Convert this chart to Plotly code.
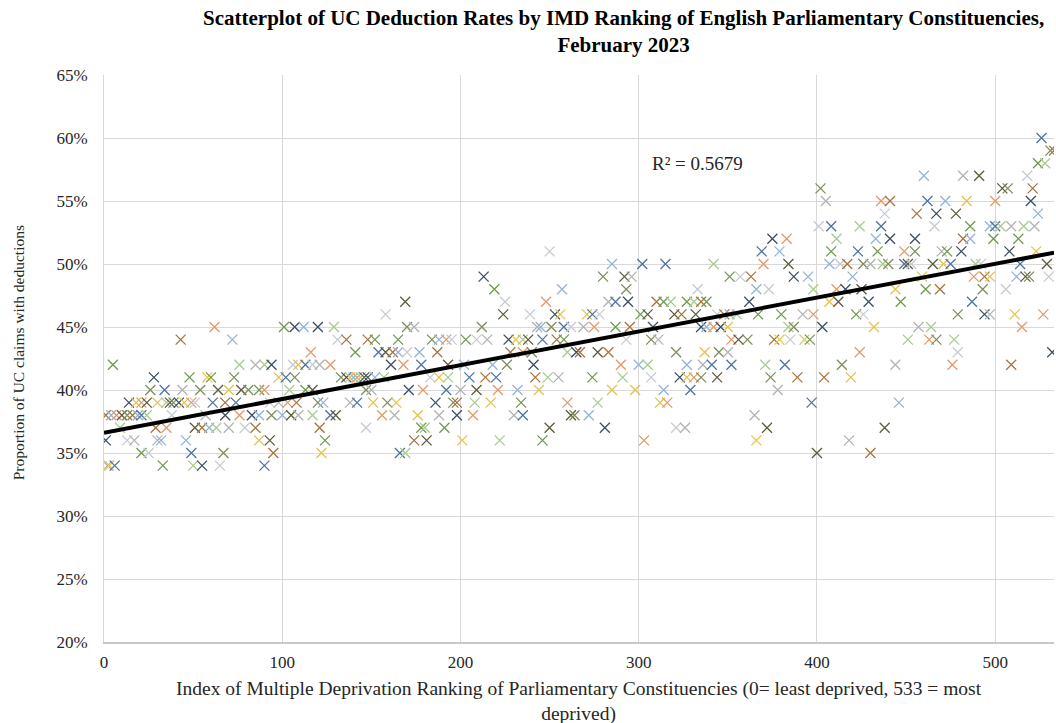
import plotly.graph_objects as go

# IMD ranks of constituencies, grouped by their UC deduction rate (%)
ranks_34pct = [2, 3, 6, 33, 50, 55, 65, 90]
ranks_35pct = [21, 25, 49, 67, 95, 122, 166, 169, 400, 430]
ranks_36pct = [1, 13, 17, 30, 32, 46, 87, 93, 124, 174, 181, 201, 222, 246, 303, 366, 418]
ranks_37pct = [9, 29, 35, 51, 55, 59, 63, 70, 79, 85, 121, 147, 178, 180, 191, 250, 281, 321, 326, 372, 438]
ranks_38pct = [1, 4, 7, 10, 13, 16, 19, 21, 24, 38, 57, 68, 76, 83, 87, 94, 100, 105, 109, 117, 127, 130,
               156, 163, 176, 188, 198, 207, 230, 235, 262, 264, 272, 365]
ranks_39pct = [14, 18, 21, 24, 30, 35, 37, 39, 42, 45, 49, 51, 61, 68, 74, 93, 98, 103, 108, 120, 123, 138,
               142, 151, 159, 164, 186, 196, 198, 208, 217, 234, 260, 277, 312, 316, 397, 446]
ranks_40pct = [26, 34, 44, 54, 64, 70, 77, 81, 87, 90, 104, 113, 117, 147, 150, 171, 179, 192, 200, 209,
               221, 232, 244, 285, 298, 314, 329, 378]
ranks_41pct = [28, 48, 58, 60, 73, 98, 102, 107, 133, 136, 138, 140, 142, 144, 146, 148, 152, 157, 183,
               188, 193, 205, 214, 220, 242, 249, 255, 274, 291, 307, 323, 327, 331, 335, 344, 374, 389,
               404, 419]
ranks_42pct = [5, 76, 85, 90, 94, 106, 109, 113, 117, 121, 127, 161, 168, 178, 193, 202, 218, 226, 241,
               290, 300, 305, 327, 336, 341, 352, 371, 382, 414, 444, 476, 509]
ranks_43pct = [116, 141, 154, 158, 162, 165, 170, 177, 187, 228, 235, 240, 260, 265, 267, 277, 283, 321,
               337, 345, 350, 424, 479, 532]
ranks_44pct = [43, 72, 131, 136, 148, 152, 165, 184, 188, 192, 195, 203, 209, 215, 227, 231, 235, 238,
               246, 254, 258, 293, 307, 311, 352, 356, 361, 376, 379, 385, 393, 396, 451, 463, 467, 477]
ranks_45pct = [62, 101, 107, 112, 120, 129, 170, 174, 212, 243, 245, 251, 258, 262, 269, 275, 287, 295,
               308, 335, 338, 342, 346, 350, 384, 387, 403, 432, 457, 464, 515]
ranks_46pct = [158, 224, 239, 253, 256, 271, 274, 278, 301, 305, 320, 324, 332, 344, 348, 351, 355, 367,
               380, 392, 398, 422, 426, 479, 494, 497, 511, 527]
ranks_47pct = [169, 225, 248, 283, 287, 294, 310, 314, 318, 327, 331, 335, 338, 362, 407, 412, 429, 447, 487]
ranks_48pct = [219, 257, 293, 333, 366, 373, 398, 411, 416, 425, 444, 461, 469, 493, 506]
ranks_49pct = [213, 280, 292, 296, 351, 357, 363, 387, 395, 420, 459, 488, 494, 497, 512, 517, 519, 530]
ranks_50pct = [285, 302, 315, 342, 370, 384, 407, 413, 417, 426, 430, 437, 440, 449, 451, 453, 465, 471,
               475, 489, 492, 514, 529]
ranks_51pct = [250, 369, 379, 408, 423, 434, 449, 455, 470, 473, 481, 508, 523]
ranks_52pct = [375, 383, 411, 433, 441, 455, 482, 486, 499, 513]
ranks_53pct = [401, 408, 424, 436, 466, 486, 497, 500, 503, 509, 516, 522]
ranks_54pct = [438, 456, 467, 478, 524]
ranks_55pct = [405, 436, 441, 462, 472, 484, 500, 520]
ranks_56pct = [402, 504, 507, 521]
ranks_57pct = [460, 482, 491, 518]
ranks_58pct = [524, 528]
ranks_59pct = [531, 533]
ranks_60pct = [526]

rate_rows = {
    34: ranks_34pct, 35: ranks_35pct, 36: ranks_36pct, 37: ranks_37pct, 38: ranks_38pct,
    39: ranks_39pct, 40: ranks_40pct, 41: ranks_41pct, 42: ranks_42pct, 43: ranks_43pct,
    44: ranks_44pct, 45: ranks_45pct, 46: ranks_46pct, 47: ranks_47pct, 48: ranks_48pct,
    49: ranks_49pct, 50: ranks_50pct, 51: ranks_51pct, 52: ranks_52pct, 53: ranks_53pct,
    54: ranks_54pct, 55: ranks_55pct, 56: ranks_56pct, 57: ranks_57pct, 58: ranks_58pct,
    59: ranks_59pct, 60: ranks_60pct,
}

# linear trend line as drawn in the chart (value at rank 0 and rank 533)
trend_ranks = [0, 533]
trend_values = [36.6, 50.9]
r_squared_label = "R² = 0.5679"

x_ticks = [0, 100, 200, 300, 400, 500]
y_ticks = [20, 25, 30, 35, 40, 45, 50, 55, 60, 65]
y_tick_labels = [f"{v}%" for v in y_ticks]

points = sorted((r, v) for v, rs in rate_rows.items() for r in rs)
px = [p[0] for p in points]
py = [p[1] for p in points]

palette = ["#3B4F63", "#A8743F", "#B3B3B3", "#E3C24E", "#93B4D8", "#6F9A4F",
           "#4E73A3", "#E39A6A", "#A9CB8E", "#5E5A3C", "#C6CBD2", "#7D8F5A"]
colors = [palette[i % len(palette)] for i in range(len(points))]

FONT = "Liberation Serif, Times New Roman, serif"

fig = go.Figure()
fig.add_trace(go.Scatter(
    x=px, y=py, mode="markers",
    marker=dict(symbol="x-thin", size=10, color=colors,
                line=dict(color=colors, width=1.3)),
    showlegend=False, hoverinfo="x+y",
))
fig.add_trace(go.Scatter(
    x=trend_ranks, y=trend_values, mode="lines",
    line=dict(color="black", width=4), showlegend=False,
))

fig.update_layout(
    template="none",
    width=1056, height=723,
    margin=dict(l=104, r=2, t=75, b=81),
    paper_bgcolor="white", plot_bgcolor="white",
    font=dict(family=FONT, color="#262626"),
    xaxis=dict(
        range=[0, 533], tickvals=x_ticks, showgrid=True, gridcolor="#D9D9D9", gridwidth=1,
        showline=True, linecolor="#C8C8C8", linewidth=1.5, zeroline=False, ticks="",
        tickfont=dict(family=FONT, size=17, color="#262626"), automargin=False,
        ticklabelstandoff=4,
    ),
    yaxis=dict(
        range=[20, 65], tickmode="array", tickvals=y_ticks, ticktext=y_tick_labels,
        showgrid=True, gridcolor="#D9D9D9",
        gridwidth=1, showline=True, linecolor="#D9D9D9", zeroline=False, ticks="",
        tickfont=dict(family=FONT, size=17, color="#262626"), automargin=False,
        ticklabelstandoff=12,
    ),
    annotations=[
        dict(text="<b>Scatterplot of UC Deduction Rates by IMD Ranking of English Parliamentary Constituencies,<br>February 2023</b>",
             xref="paper", yref="paper", x=0.5465, y=1.028, xanchor="center", yanchor="bottom",
             showarrow=False, font=dict(family=FONT, size=21, color="black")),
        dict(text="Index of Multiple Deprivation Ranking of Parliamentary Constituencies (0= least deprived, 533 = most<br>deprived)",
             xref="paper", yref="paper", x=0.5, y=-0.06, xanchor="center", yanchor="top",
             showarrow=False, font=dict(family=FONT, size=19.5, color="#262626")),
        dict(text="Proportion of UC claims with deductions", textangle=-90,
             xref="paper", yref="paper", x=-0.09, y=0.51, xanchor="center", yanchor="middle",
             showarrow=False, font=dict(family=FONT, size=15.5, color="#262626")),
        dict(text=r_squared_label, xref="x", yref="y", x=306.5, y=58.0,
             xanchor="left", yanchor="middle", showarrow=False,
             font=dict(family=FONT, size=19, color="#262626")),
    ],
)

fig.write_html("out.html", config={"displayModeBar": False},
               post_script="document.body.style.margin='0px';")
